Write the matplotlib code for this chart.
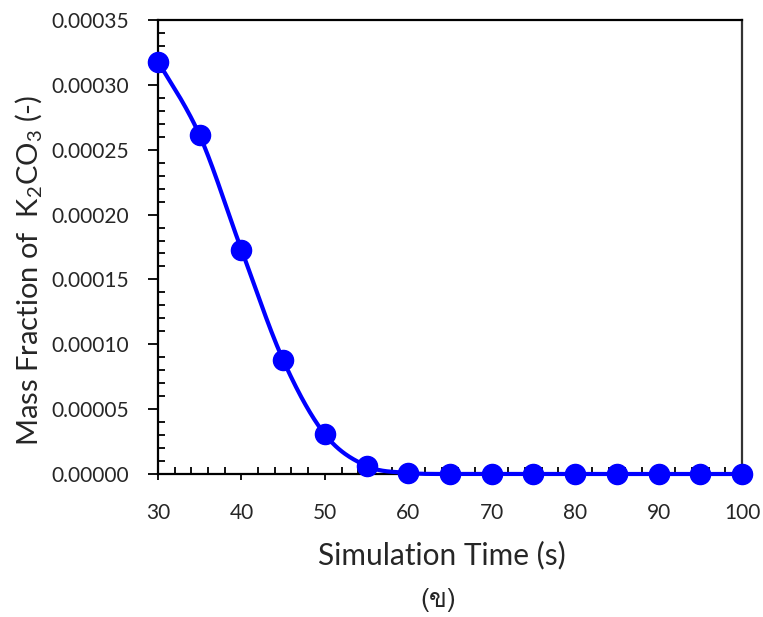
import numpy as np
import matplotlib
matplotlib.use("Agg")
import matplotlib.pyplot as plt
from matplotlib import font_manager
from matplotlib.ticker import MultipleLocator, FormatStrFormatter

# ---- data ----
time_s = [30, 35, 40, 45, 50, 55, 60, 65, 70, 75, 80, 85, 90, 95, 100]
mass_fraction = [0.000318, 0.000261, 0.000173, 0.0000879, 0.0000306, 0.0000062,
                 0.0000008, 0.0, 0.0, 0.0, 0.0, 0.0, 0.0, 0.0, 0.0]
x_ticks = [30, 40, 50, 60, 70, 80, 90, 100]
y_ticks = [0.0, 0.00005, 0.00010, 0.00015, 0.00020, 0.00025, 0.00030, 0.00035]
x_label = "Simulation Time (s)"
y_label = r"Mass Fraction of  $\mathregular{K_2CO_3}$ (-)"
caption = "(ข)"

# ---- find a font with Thai glyph ----
thai_family = None
try:
    from fontTools.ttLib import TTFont
    for fe in font_manager.fontManager.ttflist:
        try:
            f = TTFont(fe.fname, fontNumber=0, lazy=True)
            cmap = f.getBestCmap()
            if cmap and 0x0E02 in cmap:
                thai_family = fe.name
                break
        except Exception:
            pass
except Exception:
    pass

base = "Lato"
plt.rcParams['font.family'] = [base, 'DejaVu Sans']
text_color = '#262626'


def catmull_rom(x, y, n=40):
    x = np.asarray(x, float); y = np.asarray(y, float)
    P = np.column_stack([x, y])
    P = np.vstack([P[0], P, P[-1]])
    out = []
    for i in range(1, len(P) - 2):
        p0, p1, p2, p3 = P[i-1], P[i], P[i+1], P[i+2]
        c1 = p1 + (p2 - p0) / 6.0
        c2 = p2 - (p3 - p1) / 6.0
        t = np.linspace(0, 1, n)[:, None]
        seg = ((1-t)**3)*p1 + 3*((1-t)**2)*t*c1 + 3*(1-t)*(t**2)*c2 + (t**3)*p2
        out.append(seg if i == 1 else seg[1:])
    out = np.vstack(out)
    return out[:, 0], out[:, 1]


fig = plt.figure(figsize=(7.63, 6.17), dpi=100)
ax = fig.add_axes([158/763, 1 - 474/617, (742-158)/763, (474-20)/617])

sx, sy = catmull_rom(time_s, mass_fraction)
ax.plot(sx, sy, color='#0000FF', lw=3.0, zorder=3, clip_on=False)
ax.plot(time_s, mass_fraction, 'o', color='#0000FF', ms=14.5, zorder=4, clip_on=False)

ax.set_xlim(30, 100)
ax.set_ylim(0, 0.00035)
ax.set_xticks(x_ticks)
ax.set_yticks(y_ticks)
ax.xaxis.set_minor_locator(MultipleLocator(2))
ax.yaxis.set_minor_locator(MultipleLocator(0.00001))
ax.yaxis.set_major_formatter(FormatStrFormatter('%.5f'))

ax.tick_params(axis='y', which='major', direction='out', length=7, width=1.3,
               pad=14, labelsize=15, labelcolor=text_color)
ax.tick_params(axis='y', which='minor', direction='in', length=5, width=1.3)
ax.tick_params(axis='x', which='major', direction='out', length=4, width=1.3,
               pad=17, labelsize=15, labelcolor=text_color)
ax.tick_params(axis='x', which='minor', direction='in', length=5, width=1.3)

for s in ['left', 'bottom', 'top']:
    ax.spines[s].set_linewidth(1.6)
    ax.spines[s].set_color('black')
ax.spines['right'].set_linewidth(1.6)
ax.spines['right'].set_color('#333333')

fig.text(29/763, 1 - 270/617, y_label, rotation=90, ha='center', va='center',
         fontsize=21, color=text_color)
fig.text(442/763, 1 - 555/617, x_label, ha='center', va='center',
         fontsize=21.5, color=text_color)
fam = [thai_family, base, 'DejaVu Sans'] if thai_family else [base, 'DejaVu Sans']
fig.text(438/763, 1 - 600/617, caption, ha='center', va='center',
         fontsize=19, color=text_color, family=fam)

fig.savefig('out.png', dpi=100)
